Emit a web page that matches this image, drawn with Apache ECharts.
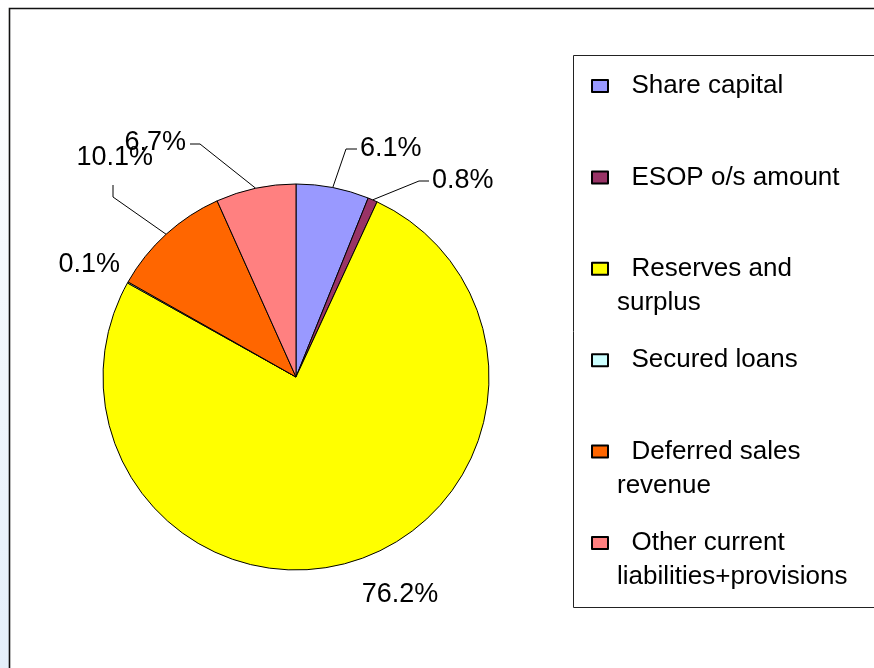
<!DOCTYPE html>
<html>
<head>
<meta charset="utf-8">
<script src="https://cdn.jsdelivr.net/npm/echarts@6/dist/echarts.min.js"></script>
<style>
html,body{margin:0;padding:0;background:#fff;}
#c{width:874px;height:668px;}
</style>
</head>
<body>
<div id="c"></div>
<script>
// ---- data ----
const categories = ['Share capital', 'ESOP o/s amount', 'Reserves and surplus', 'Secured loans', 'Deferred sales revenue', 'Other current liabilities+provisions'];
const values = [6.1, 0.8, 76.2, 0.1, 10.1, 6.7];
const colors = ['#9999FF', '#993366', '#FFFF00', '#CCFFFF', '#FF6600', '#FF8080'];

// ---- layout / styling (not data) ----
const legendWrap = {
  'Reserves and surplus': ['Reserves and', 'surplus'],
  'Deferred sales revenue': ['Deferred sales', 'revenue'],
  'Other current liabilities+provisions': ['Other current', 'liabilities+provisions']
};
const labelPlace = [
  {x: 360, y: 149, align: 'left',   line: [[346, 149], [357, 149]]},
  {x: 432, y: 181, align: 'left',   line: [[419, 181], [429, 181]]},
  {x: 400, y: 595, align: 'center', line: null},
  {x: 120, y: 265, align: 'right',  line: null},
  {x: 153, y: 158, align: 'right',  line: [[113, 197], [113, 185]]},
  {x: 186, y: 143, align: 'right',  line: [[200, 144], [190, 144]]}
];

const chart = echarts.init(document.getElementById('c'), null, {renderer: 'canvas'});
const FONT = '"Liberation Sans", Arial, sans-serif';

chart.setOption({
  backgroundColor: '#ffffff',
  animation: false,
  color: colors,
  graphic: [
    {type: 'rect', left: 0, top: 0, shape: {x: 0, y: 0, width: 9, height: 668}, silent: true,
     style: {fill: new echarts.graphic.LinearGradient(0, 0, 0, 1, [{offset: 0, color: '#ffffff'}, {offset: 1, color: '#e4effa'}])}},
    {type: 'polyline', shape: {points: [[9.5, 668], [9.5, 8.5], [874, 8.5]]}, silent: true,
     style: {stroke: '#111', lineWidth: 1.6, fill: null}},
    {type: 'rect', shape: {x: 573.5, y: 55.5, width: 330, height: 552}, silent: true,
     style: {stroke: '#222', lineWidth: 1, fill: null}}
  ],
  legend: {
    orient: 'vertical',
    left: 591,
    top: 35,
    padding: 0,
    icon: 'rect',
    itemWidth: 16,
    itemHeight: 12,
    itemGap: -10.6,
    selectedMode: false,
    data: categories,
    formatter: function (name) {
      const parts = legendWrap[name] || [name];
      return '\n  ' + parts[0] + '\n' + (parts[1] || ' ');
    },
    textStyle: {
      fontFamily: FONT,
      fontSize: 26,
      lineHeight: 34,
      color: '#000',
      padding: [0, 0, 0, 4]
    }
  },
  series: [{
    type: 'pie',
    center: [296, 377],
    radius: 193,
    startAngle: 90,
    clockwise: true,
    percentPrecision: 1,
    avoidLabelOverlap: false,
    itemStyle: {borderColor: '#000', borderWidth: 1},
    emphasis: {disabled: true},
    label: {
      show: true,
      position: 'outside',
      formatter: '{d}%',
      fontFamily: FONT,
      fontSize: 27,
      color: '#000'
    },
    labelLine: {show: true, lineStyle: {color: '#000', width: 1}},
    labelLayout: function (params) {
      const p = labelPlace[params.dataIndex];
      const out = {x: p.x, y: p.y, align: p.align, verticalAlign: 'middle'};
      if (p.line && params.labelLinePoints) {
        out.labelLinePoints = [params.labelLinePoints[0], p.line[0], p.line[1]];
      }
      return out;
    },
    data: categories.map(function (n, i) {
      return {name: n, value: values[i], labelLine: {show: !!labelPlace[i].line}};
    })
  }]
});
</script>
</body>
</html>
